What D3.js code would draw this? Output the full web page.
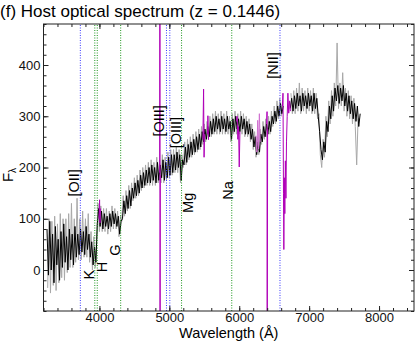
<!DOCTYPE html>
<html>
<head>
<meta charset="utf-8">
<script src="https://cdn.jsdelivr.net/npm/d3@7"></script>
<style>
  body { margin: 0; background: #fff; }
  svg { display: block; font-family: "Liberation Sans", Arial, sans-serif; }
</style>
</head>
<body>
<svg id="chart" width="415" height="341"></svg>
<script>
// spectrum, black (smoothed) : starts at 3250 A, one value per 20 A
var blackStart = 3250, blackStep = 20;
var blackFlux = [
  80, -10, 95, 0, 70, -25, 85, 10, 60, -20,        // 3250
  75, 5, 90, 15, 65, 0, 80, 20, 70, 10,            // 3450
  85, 25, 70, 30, 80, 35, 75, 30, 85, 40,          // 3650
  70, 25, 55, 10, 45, 15, 90, 120, 85, 115,        // 3850
  80, 110, 85, 105, 80, 110, 85, 115, 90, 110,     // 4050
  85, 105, 70, 95, 100, 135, 110, 145, 120, 155,   // 4250
  125, 160, 140, 170, 145, 175, 150, 185, 160, 190,// 4450
  165, 195, 170, 200, 170, 205, 175, 200, 170, 210,// 4650
  175, 205, 180, 215, 175, 210, 180, 220, 185, 225,// 4850
  190, 225, 195, 230, 200, 225, 175, 215, 205, 240,// 5050
  210, 245, 220, 250, 225, 255, 230, 260, 235, 265,// 5250
  240, 270, 250, 275, 255, 280, 260, 290, 265, 295,// 5450
  270, 300, 275, 295, 270, 300, 275, 295, 270, 300,// 5650
  275, 290, 255, 295, 270, 300, 275, 295, 270, 300,// 5850
  275, 295, 265, 290, 265, 285, 255, 275, 240, 260,// 6050
  225, 250, 230, 265, 250, 280, 260, 285, 265, 290,// 6250
  270, 300, 285, 310, 290, 320, 300, 325, 305, 320,// 6450
  null, null, null, null, 315, 335, 310, 340, 315, 345, // 6650
  320, 340, 310, 345, 320, 340, 315, 345, 320, 340,// 6850
  310, 345, 315, 335, 300, 270, 235, 215, 250, 230,// 7050
  290, 270, 320, 295, 340, 310, 355, 330, 360, 325,// 7250
  355, 330, 360, 320, 345, 310, 340, 305, 330, 295,// 7450
  325, 290, 320, 280, 305                          // 7650
];

// spectrum, grey (raw) : starts at 3260 A, one value per 20 A
var greyStart = 3260, greyStep = 20;
var greyFlux = [
  -35, 100, -45, 95, -30, 105, -40, 90, -25, 110,  // 3260
  -15, 100, -20, 100, -5, 110, 5, 130, 5, 100,     // 3460
  15, 140, 20, 100, 20, 115, 25, 100, 25, 110,     // 3660
  15, 75, 0, 65, 5, 60, 130, 75, 125, 75,          // 3860
  120, 75, 120, 70, 115, 75, 125, 80, 120, 80,     // 4060
  115, 65, 105, 95, 145, 105, 155, 115, 165, 120,  // 4260
  170, 135, 180, 140, 185, 145, 195, 155, 200, 160,// 4460
  205, 165, 210, 165, 215, 165, 210, 165, 220, 170,// 4660
  215, 170, 225, 170, 220, 175, 230, 180, 235, 185,// 4860
  235, 190, 240, 190, 235, 170, 225, 200, 250, 205,// 5060
  255, 215, 260, 220, 265, 225, 270, 230, 275, 235,// 5260
  280, 245, 285, 250, 290, 255, 300, 260, 305, 265,// 5460
  310, 265, 305, 265, 310, 265, 305, 265, 310, 265,// 5660
  300, 250, 305, 265, 310, 265, 305, 265, 310, 265,// 5860
  305, 260, 300, 260, 295, 250, 285, 235, 270, 220,// 6060
  260, 225, 275, 245, 290, 255, 295, 260, 300, 265,// 6260
  310, 280, 320, 285, 330, 295, 335, 300, 330, null, // 6460
  null, null, null, null, 345, 305, 350, 305, 355, 310, // 6660
  365, 305, 355, 310, 350, 305, 355, 310, 350, 305,// 6860
  355, 305, 345, 295, 305, 225, 200, 255, 220, 300,// 7060
  260, 330, 285, 350, 300, 365, 320, 443, 315, 365,// 7260
  320, 385, 310, 355, 300, 350, 295, 340, 285, 335,// 7460
  280, 205, 295, 295                               // 7660
];

// masked pieces of the spectrum (drawn magenta), [wavelength, flux]
var maskH    = [[3995, 100], [4002, 137], [4008, 92], [4015, 120]];
var mask4868 = [[4862, 190], [4866, 900], [4866.5, -400], [4871, 185]];
var mask5490 = [[5480, 255], [5490, 353], [5497, 220], [5505, 265]];
var mask5552 = [[5545, 265], [5552, 301], [5560, 254]];
var mask5990 = [[5960, 290], [5970, 300], [5980, 255], [5990, 280], [6000, 201], [6010, 270]];
var mask6400 = [[6392, 285], [6398, 309], [6399, -400], [6406, 275]];
var maskA    = [[6618, 320], [6626, 345], [6633, 150], [6638, 40], [6645, 180], [6652, 110],
                [6660, 213], [6668, 140], [6676, 250], [6686, 300], [6696, 345], [6708, 306],
                [6720, 330], [6732, 310]];
var maskPale = [[6240, 262], [6252, 230], [6264, 292], [6276, 236], [6288, 305], [6300, 250]];

// spectral lines (rest frame)
var emisNames = ["[OII]", "[OIII]", "[OIII]", "[NII]"];
var emisLam   = [3727, 4959, 5007, 6583];
var absNames  = ["K", "H", "G", "Mg", "Na"];
var absLam    = [3934, 3969, 4304, 5175, 5893];

var xTicks = [4000, 5000, 6000, 7000, 8000];
var yTicks = [0, 100, 200, 300, 400];

// where the line names sit, [wavelength, flux] of text centre
var emisLabelAt = [[3636, 170], [4852, 291], [5095, 268], [6482, 399]];
var absLabelAt  = [[3851, -9], [4037, 6], [4222, 39], [5266, 131], [5838, 155]];

var svg = d3.select("#chart"),
    margin = {top: 24, right: 1, bottom: 30, left: 43.5},
    W = +svg.attr("width"), H = +svg.attr("height");

var x = d3.scaleLinear().domain([3200, 8500]).range([margin.left, W - margin.right]);
var y = d3.scaleLinear().domain([-80, 480]).range([H - margin.bottom, margin.top]);

svg.append("defs").append("clipPath").attr("id", "clip")
  .append("rect")
    .attr("x", x.range()[0]).attr("y", y.range()[1])
    .attr("width", x.range()[1] - x.range()[0])
    .attr("height", y.range()[0] - y.range()[1]);

var plot = svg.append("g").attr("clip-path", "url(#clip)");

var line = d3.line()
    .defined(function(d) { return d[1] != null; })
    .x(function(d) { return x(d[0]); })
    .y(function(d) { return y(d[1]); });

var grey = greyFlux.map(function(v, i) { return [greyStart + i * greyStep, v]; });
var black = blackFlux.map(function(v, i) { return [blackStart + i * blackStep, v]; });

plot.append("path").datum(grey)
    .attr("fill", "none").attr("stroke", "#a8a8a8").attr("stroke-width", 1)
    .attr("d", line);
plot.append("path").datum(black)
    .attr("fill", "none").attr("stroke", "#000").attr("stroke-width", 1)
    .attr("d", line);

plot.append("path").datum(maskPale)
    .attr("fill", "none").attr("stroke", "#d070d0").attr("stroke-width", 1)
    .attr("d", line);
[maskH, mask4868, mask5490, mask5552, mask5990, mask6400, maskA].forEach(function(m) {
  plot.append("path").datum(m)
      .attr("fill", "none").attr("stroke", "#b000b8").attr("stroke-width", 1)
      .attr("d", line);
});

// dotted line markers
plot.selectAll(".emis").data(emisLam).enter().append("line")
    .attr("x1", function(d) { return x(d); }).attr("x2", function(d) { return x(d); })
    .attr("y1", y.range()[0]).attr("y2", y.range()[1])
    .attr("stroke", "#3a3aff").attr("stroke-width", 1)
    .attr("stroke-dasharray", "1,1.5");
plot.selectAll(".abs").data(absLam).enter().append("line")
    .attr("x1", function(d) { return x(d); }).attr("x2", function(d) { return x(d); })
    .attr("y1", y.range()[0]).attr("y2", y.range()[1])
    .attr("stroke", "#1f961f").attr("stroke-width", 1)
    .attr("stroke-dasharray", "1,1.5");

// line names
function addLabels(names, at) {
  svg.selectAll(null).data(names).enter().append("text")
      .attr("transform", function(d, i) {
        return "translate(" + x(at[i][0]) + "," + y(at[i][1]) + ") rotate(-90)";
      })
      .attr("text-anchor", "middle")
      .attr("dy", "0.35em")
      .attr("font-size", 14.5)
      .attr("fill", "#000")
      .text(function(d) { return d; });
}
addLabels(emisNames, emisLabelAt);
addLabels(absNames, absLabelAt);

// axes, ticks pointing inward on all four sides
var axisCol = "#222";
var xMinor = d3.range(3200, 8501, 200), yMinor = d3.range(-80, 481, 20);

function styleAxis(g) {
  g.select(".domain").remove();
  g.selectAll("line").attr("stroke", axisCol);
  g.selectAll("text").attr("font-size", 13).attr("fill", "#111")
      .attr("font-family", "Liberation Sans, Arial, sans-serif");
}

svg.append("g").attr("transform", "translate(0," + y.range()[0] + ")")
    .call(d3.axisBottom(x).tickValues(xTicks).tickFormat(d3.format("d"))
      .tickSizeInner(-5).tickSizeOuter(0).tickPadding(1.5))
    .call(styleAxis);
svg.append("g").attr("transform", "translate(0," + y.range()[0] + ")")
    .call(d3.axisBottom(x).tickValues(xMinor).tickSize(-3).tickFormat(""))
    .call(styleAxis);
svg.append("g").attr("transform", "translate(0," + y.range()[1] + ")")
    .call(d3.axisTop(x).tickValues(xTicks).tickSize(-5).tickFormat(""))
    .call(styleAxis);
svg.append("g").attr("transform", "translate(0," + y.range()[1] + ")")
    .call(d3.axisTop(x).tickValues(xMinor).tickSize(-3).tickFormat(""))
    .call(styleAxis);

svg.append("g").attr("transform", "translate(" + x.range()[0] + ",0)")
    .call(d3.axisLeft(y).tickValues(yTicks).tickFormat(d3.format("d"))
      .tickSizeInner(-5).tickSizeOuter(0).tickPadding(3))
    .call(styleAxis);
svg.append("g").attr("transform", "translate(" + x.range()[0] + ",0)")
    .call(d3.axisLeft(y).tickValues(yMinor).tickSize(-3).tickFormat(""))
    .call(styleAxis);
svg.append("g").attr("transform", "translate(" + x.range()[1] + ",0)")
    .call(d3.axisRight(y).tickValues(yTicks).tickSize(-5).tickFormat(""))
    .call(styleAxis);
svg.append("g").attr("transform", "translate(" + x.range()[1] + ",0)")
    .call(d3.axisRight(y).tickValues(yMinor).tickSize(-3).tickFormat(""))
    .call(styleAxis);

svg.append("rect")
    .attr("x", x.range()[0]).attr("y", y.range()[1])
    .attr("width", x.range()[1] - x.range()[0])
    .attr("height", y.range()[0] - y.range()[1])
    .attr("fill", "none").attr("stroke", axisCol).attr("stroke-width", 1);

// titles
svg.append("text")
    .attr("x", 0).attr("y", 17)
    .attr("font-size", 17)
    .text("(f) Host optical spectrum (z = 0.1446)");

svg.append("text")
    .attr("x", (x.range()[0] + x.range()[1]) / 2).attr("y", 338)
    .attr("text-anchor", "middle")
    .attr("font-size", 14.5)
    .text("Wavelength (\u00c5)");

var yl = svg.append("text")
    .attr("transform", "translate(13,175) rotate(-90)")
    .attr("text-anchor", "middle")
    .attr("font-size", 15);
yl.append("tspan").text("F");
yl.append("tspan").attr("font-size", 10).attr("dy", "0.3em").text("\u03bb");
</script>
</body>
</html>
